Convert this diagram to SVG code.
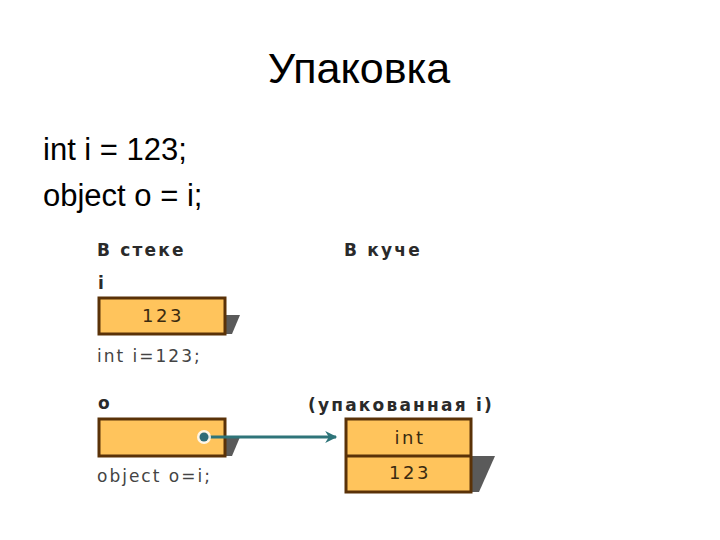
<svg xmlns="http://www.w3.org/2000/svg" width="720" height="540" viewBox="0 0 720 540">
<defs>
<style>
.title{font-family:"Liberation Sans",Arial,sans-serif;font-size:43px;fill:#000}
.code{font-family:"Liberation Sans",Arial,sans-serif;font-size:31px;fill:#000}
.hdr{font-family:"DejaVu Sans",Verdana,sans-serif;font-weight:bold;font-size:17px;fill:#2a2a2a;letter-spacing:2.2px}
.lbl{font-family:"DejaVu Sans",Verdana,sans-serif;font-size:17px;fill:#444;letter-spacing:2px}
.val{font-family:"DejaVu Sans",Verdana,sans-serif;font-size:18px;fill:#3a2a10;letter-spacing:2.5px}
.box{fill:#FFC45C;stroke:#5A3208;stroke-width:3}
.shadow{fill:#5a5a5a}
</style>
<marker id="ah" viewBox="0 0 10 10" refX="9" refY="5" markerWidth="6" markerHeight="4" orient="auto" markerUnits="strokeWidth">
<path d="M0,0 L10,5 L0,10 L3,5 z" fill="#2E7479"/>
</marker>
</defs>
<rect width="720" height="540" fill="#fff"/>
<text class="title" x="359" y="83" text-anchor="middle">Упаковка</text>
<text class="code" x="43" y="160">int i = 123;</text>
<text class="code" x="43" y="206">object o = i;</text>

<text class="hdr" x="97" y="256">В стеке</text>
<text class="hdr" x="344" y="256">В куче</text>

<g id="node-i">
<text class="hdr" x="98" y="289">i</text>
<polygon class="shadow" points="226,315 240,315 232,334 226,334"/>
<rect class="box" x="99" y="298" width="126" height="36"/>
<text class="val" x="163" y="322" text-anchor="middle">123</text>
<text class="lbl" x="97" y="362">int i=123;</text>
</g>

<g id="node-o">
<text class="hdr" x="98" y="409">o</text>
<polygon class="shadow" points="226,437 240,437 232,456 226,456"/>
<rect class="box" x="99" y="419" width="126" height="37"/>
<text class="lbl" x="97" y="482">object o=i;</text>
</g>

<g id="node-heap">
<text class="hdr" x="308" y="411" letter-spacing="2.6">(упакованная i)</text>
<polygon class="shadow" points="472,456 495,456 479,492 472,492"/>
<rect class="box" x="346" y="419" width="125" height="73"/>
<line x1="346" y1="456" x2="471" y2="456" stroke="#5A3208" stroke-width="3"/>
<text class="val" x="410" y="444" text-anchor="middle" letter-spacing="1">int</text>
<text class="val" x="410" y="479" text-anchor="middle">123</text>
</g>

<g id="connectors">
<line x1="204" y1="437" x2="336" y2="437" stroke="#2E7479" stroke-width="3" marker-end="url(#ah)"/>
<circle cx="204" cy="437" r="7" fill="#fff" opacity="0.85"/>
<circle cx="204" cy="437" r="4.5" fill="#2E6B78"/>
</g>
</svg>
